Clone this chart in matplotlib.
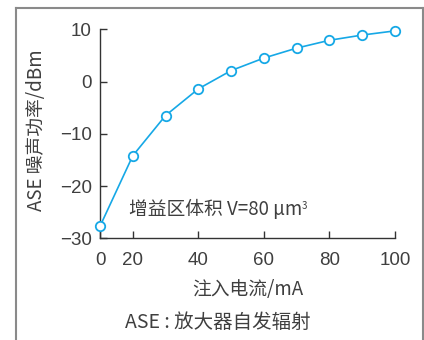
import matplotlib.pyplot as plt
from matplotlib.lines import Line2D

plt.rcParams['font.family'] = ['Noto Sans CJK SC', 'DejaVu Sans']

# 数据 (原图第一个点画在标注为 "0" 的刻度上)
current = [10, 20, 30, 40, 50, 60, 70, 80, 90, 100]
ase_power = [-27.7, -14.2, -6.5, -1.4, 2.1, 4.5, 6.4, 7.9, 8.9, 9.7]
xtick_pos = [10, 20, 40, 60, 80, 100]
xtick_labels = ['0', '20', '40', '60', '80', '100']
yticks = [-30, -20, -10, 0, 10]

text_color = '#3f3f3f'
line_color = '#16a8e6'

fig = plt.figure(figsize=(4.24, 3.40), dpi=100)
ax = fig.add_axes([100 / 424, 1 - 238.3 / 340, 295 / 424, 209 / 340])

ax.plot(current, ase_power, color=line_color, linewidth=1.2, marker='o',
        markersize=6.8, markerfacecolor='white', markeredgecolor=line_color,
        markeredgewidth=1.3, clip_on=False, zorder=3)

ax.set_xlim(10, 100)
ax.set_ylim(-30, 10)
ax.set_xticks(xtick_pos)
ax.set_xticklabels(xtick_labels)
ax.set_yticks(yticks)
ax.set_yticklabels([str(t).replace('-', '\u2212') for t in yticks])

for s in ['top', 'right']:
    ax.spines[s].set_visible(False)
for s in ['left', 'bottom']:
    ax.spines[s].set_color('#333333')
    ax.spines[s].set_linewidth(1.0)

ax.tick_params(direction='in', length=5, width=1, color='#333333',
               labelsize=13.5, labelcolor=text_color)
ax.tick_params(axis='x', pad=10)
ax.tick_params(axis='y', pad=6)
for lab in ax.get_xticklabels() + ax.get_yticklabels():
    lab.set_fontfamily(['Liberation Sans', 'DejaVu Sans'])

t = ax.text(18.8, -24.4, '增益区体积 V=80 μm', fontsize=13.5, color=text_color,
            va='center', ha='left')
ax.annotate('3', xy=(1, 0.88), xycoords=t, fontsize=7, color=text_color,
            va='top', ha='left')

fig.text(248 / 424, 1 - 290 / 340, '注入电流/mA', fontsize=13.5,
         color=text_color, ha='center', va='center')
fig.text(218 / 424, 1 - 322 / 340, 'ASE : 放大器自发辐射', fontsize=14,
         color=text_color, ha='center', va='center')
fig.text(37 / 424, 1 - 130 / 340, 'ASE 噪声功率/dBm', fontsize=13.5,
         color=text_color, ha='center', va='center', rotation=90)

# 外框
frame_kw = dict(color='#8a8a8a', linewidth=1.5, transform=fig.transFigure)
fig.add_artist(Line2D([16 / 424, 423 / 424], [1 - 8 / 340, 1 - 8 / 340], **frame_kw))
fig.add_artist(Line2D([16 / 424, 16 / 424], [0, 1 - 8 / 340], **frame_kw))
fig.add_artist(Line2D([423 / 424, 423 / 424], [0, 1 - 8 / 340], **frame_kw))

fig.savefig('out.png', dpi=100)
